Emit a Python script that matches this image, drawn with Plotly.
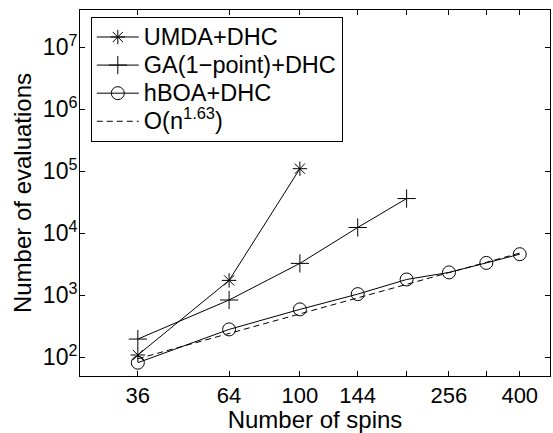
import plotly.graph_objects as go

x_umda = [36, 64, 100]
y_umda = [109, 1740, 110000]

x_ga = [36, 64, 100, 144, 196]
y_ga = [197, 840, 3270, 12400, 36300]

x_hboa = [36, 64, 100, 144, 196, 256, 324, 400]
y_hboa = [82, 282, 593, 1045, 1800, 2340, 3330, 4600]

x_fit = [36, 400]
y_fit = [95, 4800]

x_tickvals = [36, 64, 100, 144, 196, 256, 324, 400]
x_ticktext = ["36", "64", "100", "144", " ", "256", " ", "400"]
y_tickvals = [1e2, 1e3, 1e4, 1e5, 1e6, 1e7]
y_ticktext = ["10<sup>2</sup>", "10<sup>3</sup>", "10<sup>4</sup>", "10<sup>5</sup>", "10<sup>6</sup>", "10<sup>7</sup>"]

FONT = "Liberation Sans, Arial, sans-serif"


def big(s):
    return '<span style="font-size:23.5px">' + s + '</span>'


fig = go.Figure()
fig.add_trace(go.Scatter(x=x_umda, y=y_umda, mode="lines+markers", name=big("UMDA+DHC"),
                         line=dict(color="black", width=1),
                         marker=dict(symbol="asterisk-open", size=12, color="black", line=dict(width=1, color="black"))))
fig.add_trace(go.Scatter(x=x_ga, y=y_ga, mode="lines+markers", name=big("GA(1\u2212point)+DHC"),
                         line=dict(color="black", width=1),
                         marker=dict(symbol="cross-thin-open", size=13, color="black", line=dict(width=1, color="black"))))
fig.add_trace(go.Scatter(x=x_hboa, y=y_hboa, mode="lines+markers", name=big("hBOA+DHC"),
                         line=dict(color="black", width=1),
                         marker=dict(symbol="circle-open", size=13, color="black", line=dict(width=1, color="black"))))
fig.add_trace(go.Scatter(x=x_fit, y=y_fit, mode="lines", name=big("O(n<sup>1.63</sup>)"),
                         line=dict(color="black", width=1, dash="6px,4px")))

axis_common = dict(showline=True, linecolor="black", linewidth=1, mirror="ticks",
                   ticks="inside", ticklen=5, tickcolor="black", tickwidth=1,
                   showgrid=False, zeroline=False, automargin=False)

fig.update_xaxes(type="log", range=[1.39794, 2.68485], tickvals=x_tickvals, ticktext=x_ticktext,
                 tickfont=dict(family=FONT, size=22, color="black"),
                 title=dict(text="Number of spins", font=dict(family=FONT, size=24, color="black"), standoff=4),
                 **axis_common)
fig.update_yaxes(type="log", range=[1.699, 7.6], tickvals=y_tickvals, ticktext=y_ticktext,
                 tickfont=dict(family=FONT, size=23, color="black"),
                 ticklabelstandoff=-3,
                 title=dict(text="Number of evaluations", font=dict(family=FONT, size=24, color="black"), standoff=4),
                 **axis_common)

fig.update_layout(width=553, height=433, margin=dict(l=80, r=3, t=10, b=57),
                  paper_bgcolor="white", plot_bgcolor="white",
                  font=dict(family=FONT, color="black"),
                  legend=dict(x=0.023, y=0.981, xanchor="left", yanchor="top",
                              bgcolor="white", bordercolor="black", borderwidth=1,
                              font=dict(family=FONT, size=19.3, color="black"),
                              tracegroupgap=0, itemwidth=42))
fig.write_html("out.html", config={"responsive": False, "displayModeBar": False},
               post_script="document.body.style.margin='0';document.body.style.padding='0';")
